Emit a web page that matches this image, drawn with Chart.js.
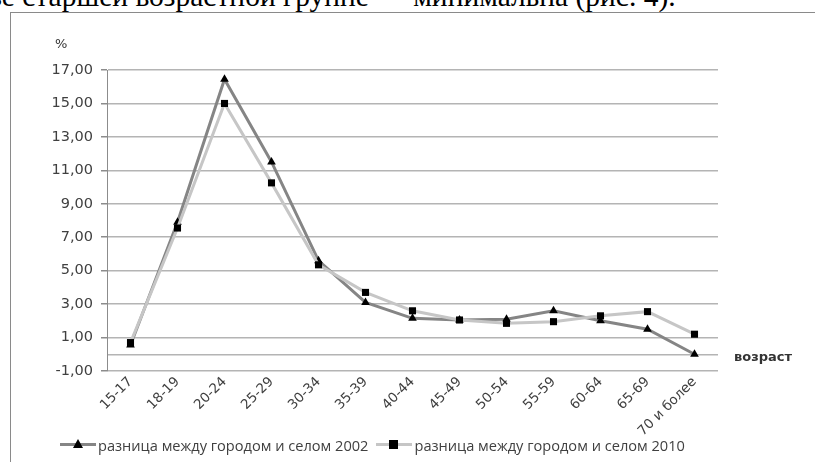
<!DOCTYPE html>
<html>
<head>
<meta charset="utf-8">
<script src="https://cdn.jsdelivr.net/npm/chart.js@4/dist/chart.umd.min.js"></script>
<style>
  html, body { margin:0; padding:0; background:#fff; width:815px; height:462px; overflow:hidden; }
  #toptext { position:absolute; left:-12px; top:-20px; font-family:"Liberation Serif", serif; font-size:29.5px; color:#000; white-space:nowrap; }
  #frame { position:absolute; left:10px; top:12px; width:820px; height:470px; border-left:1px solid #8a8a8a; border-top:1px solid #8a8a8a; }
  #wrap { position:absolute; left:10px; top:12px; width:805px; height:450px; }
  #pct { position:absolute; left:55px; top:36px; font-family:"DejaVu Sans", sans-serif; font-size:13px; color:#333; }
  #xtitle { position:absolute; left:734px; top:349px; font-family:"DejaVu Sans", sans-serif; font-size:13px; font-weight:bold; color:#333; }
  #legend { position:absolute; left:60px; top:430px; font-family:"Open Sans", sans-serif; font-size:14.6px; color:#404040; white-space:nowrap; }
  .item { display:inline-flex; align-items:center; }
  .mk { position:relative; display:inline-block; width:36px; height:3px; margin-right:2px; }
  .tri { position:absolute; left:13px; top:-4px; width:0; height:0; border-left:5px solid transparent; border-right:5px solid transparent; border-bottom:9px solid #000; }
  .sq { position:absolute; left:13px; top:-3px; width:9px; height:9px; background:#000; }
</style>
</head>
<body>
<div id="toptext">ве старшей возрастной группе — минимальна (рис. 4).</div>
<div id="frame"></div>
<div id="wrap"><canvas id="c" width="805" height="450"></canvas></div>
<div id="pct">%</div>
<div id="xtitle">возраст</div>
<div id="legend"></div>
<script>
const categories = ['15-17','18-19','20-24','25-29','30-34','35-39','40-44','45-49','50-54','55-59','60-64','65-69','70 и более'];
const series2002 = [0.55, 7.9, 16.45, 11.5, 5.6, 3.1, 2.15, 2.05, 2.1, 2.6, 2.0, 1.5, 0.0];
const series2010 = [0.7, 7.55, 15.0, 10.25, 5.35, 3.7, 2.6, 2.05, 1.85, 1.95, 2.3, 2.55, 1.2];
const seriesNames = ['разница между городом и селом 2002', 'разница между городом и селом 2010'];
const yMin = -1, yMax = 17, yStep = 1;

const lineColors = ['#858585', '#c6c6c6'];

document.getElementById('legend').innerHTML =
  '<span class="item"><span class="mk" style="background:' + lineColors[0] + '"><span class="tri"></span></span>' + seriesNames[0] + '</span>' +
  '<span class="item" style="margin-left:8px"><span class="mk" style="background:' + lineColors[1] + '"><span class="sq"></span></span>' + seriesNames[1] + '</span>';

function fmt(v) { return v.toFixed(2).replace('.', ','); }

new Chart(document.getElementById('c'), {
  type: 'line',
  data: {
    labels: categories,
    datasets: [
      { label: seriesNames[0], data: series2002, borderColor: lineColors[0], borderWidth: 3,
        pointStyle: 'triangle', pointRadius: 5, pointBackgroundColor: '#000', pointBorderColor: '#000', pointBorderWidth: 0, order: 1, tension: 0 },
      { label: seriesNames[1], data: series2010, borderColor: lineColors[1], borderWidth: 3,
        pointStyle: 'rect', pointRadius: 5, pointBackgroundColor: '#000', pointBorderColor: '#000', pointBorderWidth: 0, order: 0, tension: 0 }
    ]
  },
  options: {
    responsive: false,
    animation: false,
    devicePixelRatio: 1,
    layout: { padding: { top: 58, right: 97, bottom: 0, left: 0 } },
    plugins: { legend: { display: false }, tooltip: { enabled: false } },
    scales: {
      x: {
        offset: true,
        grid: { display: false },
        border: { display: false },
        ticks: { minRotation: 45, maxRotation: 45, autoSkip: false, color: '#404040', padding: -5,
                 font: { family: 'DejaVu Sans', size: 13.5 } },
        afterFit: s => { s.height = 91; }
      },
      y: {
        min: yMin, max: yMax,
        border: { display: true, color: '#8c8c8c', width: 1 },
        grid: {
          color: ctx => { const v = ctx.tick ? ctx.tick.value : null; return (v === 0 || Math.abs(v % 2) === 1) ? '#b4b4b4' : 'rgba(0,0,0,0)'; },
          tickColor: ctx => { const v = ctx.tick ? ctx.tick.value : null; return (Math.abs(v % 2) === 1) ? '#8c8c8c' : 'rgba(0,0,0,0)'; },
          tickLength: 6, lineWidth: 1.5
        },
        ticks: { stepSize: yStep, autoSkip: false, color: '#404040', padding: 8,
                 font: { family: 'DejaVu Sans', size: 14.5 },
                 callback: v => (Math.abs(v % 2) === 1 ? fmt(v) : '') },
        afterFit: s => { s.width = 97; }
      }
    }
  }
});
</script>
</body>
</html>
